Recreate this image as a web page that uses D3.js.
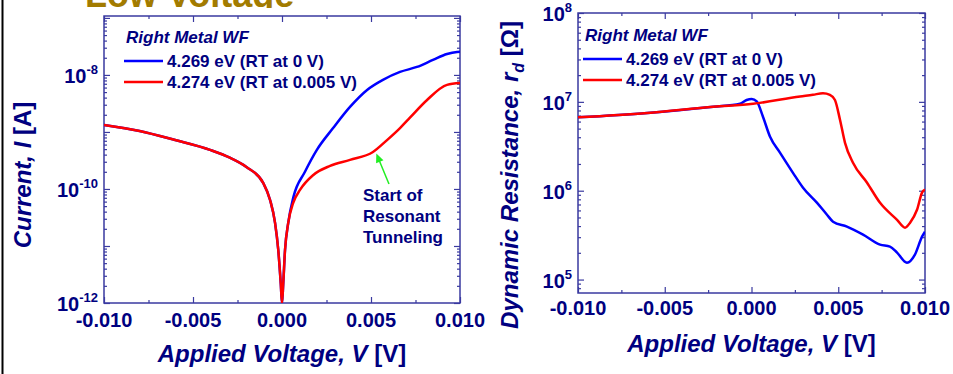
<!DOCTYPE html>
<html>
<head>
<meta charset="utf-8">
<script src="https://cdn.jsdelivr.net/npm/d3@7"></script>
<style>
  body { margin: 0; background: #fff; }
  svg text { font-family: Arial, "Liberation Sans", sans-serif; font-weight: bold; }
</style>
</head>
<body>
<svg id="chart" width="953" height="374"></svg>
<script>
"use strict";

// ---- data ----
var xTicks = [-0.010, -0.005, 0.000, 0.005, 0.010];
var xTickLabels = ["-0.010", "-0.005", "0.000", "0.005", "0.010"];

var ivLabelExps = [-12, -10, -8];
var rdLabelExps = [5, 6, 7, 8];

var legendNames = ["4.269 eV (RT at 0 V)", "4.274 eV (RT at 0.005 V)"];
var noteLines = ["Start of", "Resonant", "Tunneling"];

// current vs voltage
var ivBlueV = [-0.010, -0.008, -0.006, -0.004, -0.0029, -0.002, -0.00105, -0.00067, -0.00039, -0.00021, -0.00007, 0,
        0.00007, 0.00017, 0.00035, 0.00064, 0.00129, 0.00195, 0.00287, 0.00382, 0.00478, 0.00567, 0.00663, 0.00758,
        0.00848, 0.00927, 0.00983, 0.010];
var ivBlueI = [1.33e-9, 1.04e-9, 7.2e-10, 4.8e-10, 3.5e-10, 2.43e-10, 1.27e-10, 6.4e-11, 2.54e-11, 8.5e-12, 2.2e-12, 1e-12,
        2.2e-12, 8.5e-12, 2.54e-11, 7.2e-11, 2.0e-10, 4.8e-10, 1.17e-9, 2.75e-9, 5.46e-9, 8.2e-9, 1.13e-8, 1.38e-8,
        1.83e-8, 2.33e-8, 2.53e-8, 2.55e-8];

var ivRedV = [-0.010, -0.008, -0.006, -0.004, -0.0029, -0.002, -0.00105, -0.00067, -0.00039, -0.00021, -0.00007, 0,
        0.00007, 0.00017, 0.00035, 0.00063, 0.00101, 0.00176, 0.0027, 0.00382, 0.00511, 0.0059, 0.00663, 0.0072,
        0.00815, 0.00927, 0.010];
var ivRedI = [1.33e-9, 1.04e-9, 7.2e-10, 4.8e-10, 3.5e-10, 2.43e-10, 1.27e-10, 6.4e-11, 2.54e-11, 8.5e-12, 2.2e-12, 1e-12,
        2.2e-12, 8.5e-12, 2.54e-11, 5.7e-11, 9.6e-11, 1.76e-10, 2.54e-10, 3.23e-10, 4.45e-10, 7.2e-10, 1.17e-9, 1.8e-9,
        3.64e-9, 6.7e-9, 7.2e-9];

// dynamic resistance vs voltage
var rdBlueV = [-0.010, -0.006, -0.0022, -0.00066, -0.00028, 0.00001, 0.0003, 0.00066, 0.00107, 0.00164, 0.00239, 0.00297,
        0.00378, 0.00435, 0.0047, 0.0055, 0.00643, 0.00741, 0.00798, 0.00839, 0.00896, 0.00942, 0.00983, 0.010];
var rdBlueR = [6.7e6, 7.5e6, 8.8e6, 9.5e6, 1.05e7, 1.08e7, 1.01e7, 6.8e6, 4.04e6, 2.68e6, 1.59e6, 1.08e6,
        7.3e5, 5.37e5, 4.48e5, 3.94e5, 3.2e5, 2.47e5, 2.35e5, 2.01e5, 1.55e5, 1.91e5, 3.04e5, 3.46e5];

var rdRedV = [-0.010, -0.006, -0.0022, 0.00009, 0.0028, 0.00354, 0.00412, 0.00452, 0.00481, 0.0051, 0.00539, 0.00585,
        0.00666, 0.00741, 0.00839, 0.00885, 0.00914, 0.00954, 0.00983, 0.010];
var rdRedR = [6.7e6, 7.5e6, 8.8e6, 9.5e6, 1.15e7, 1.2e7, 1.25e7, 1.2e7, 1.05e7, 6.3e6, 3.46e6, 2.06e6,
        1.23e6, 7.3e5, 4.7e5, 3.84e5, 4.37e5, 6.1e5, 9.5e5, 1.03e6];

var navy = "#000080";
var frameColor = "#3a3aa0";
var svg = d3.select("#chart");

// slide title, only its lower edge shows
svg.append("clipPath").attr("id", "titleClip")
        .append("rect").attr("x", 0).attr("y", 0).attr("width", 400).attr("height", 8);
svg.append("text").text("Low Voltage")
        .attr("clip-path", "url(#titleClip)")
        .attr("x", 85).attr("y", 7)
        .attr("font-size", 36).attr("fill", "#a27b00");

// slide border on the left
svg.append("line").attr("x1", 2.5).attr("x2", 2.5).attr("y1", 0).attr("y2", 374)
        .attr("stroke", "#000").attr("stroke-width", 2);

function minorLogTicks(domain) {
        var out = [];
        var lo = Math.floor(Math.log10(domain[0])), hi = Math.ceil(Math.log10(domain[1]));
        for (var e = lo; e <= hi; e++) {
                for (var k = 2; k <= 9; k++) {
                        var v = k * Math.pow(10, e);
                        if (v >= domain[0] && v <= domain[1]) out.push(v);
                }
        }
        return out;
}

function majorLogTicks(domain) {
        var out = [];
        for (var e = Math.ceil(Math.log10(domain[0]) - 1e-9); Math.pow(10, e) <= domain[1]; e++) out.push(Math.pow(10, e));
        return out;
}

function drawPanel(p) {
        var x = d3.scaleLinear().domain([-0.010, 0.010]).range([p.left, p.right]);
        var y = d3.scaleLog().domain(p.yDomain).range([p.bottom, p.top]);
        var g = svg.append("g");

        // ticks on all four sides, pointing inward
        function axisSet(axisFn, pos, ticks, size) {
                g.append("g").attr("transform", pos)
                        .call(axisFn.tickValues(ticks).tickSize(size).tickFormat(""))
                        .call(function (s) {
                                s.select(".domain").remove();
                                s.selectAll("line").attr("stroke", frameColor).attr("stroke-width", 1.2);
                        });
        }
        var xMinor = [-0.0075, -0.0025, 0.0025, 0.0075];
        axisSet(d3.axisBottom(x), "translate(0," + p.bottom + ")", xTicks, -6);
        axisSet(d3.axisBottom(x), "translate(0," + p.bottom + ")", xMinor, -3);
        axisSet(d3.axisTop(x), "translate(0," + p.top + ")", xTicks, -6);
        axisSet(d3.axisTop(x), "translate(0," + p.top + ")", xMinor, -3);
        var yMaj = majorLogTicks(p.yDomain), yMin = minorLogTicks(p.yDomain);
        axisSet(d3.axisLeft(y), "translate(" + p.left + ",0)", yMaj, -6);
        axisSet(d3.axisLeft(y), "translate(" + p.left + ",0)", yMin, -3);
        axisSet(d3.axisRight(y), "translate(" + p.right + ",0)", yMaj, -6);
        axisSet(d3.axisRight(y), "translate(" + p.right + ",0)", yMin, -3);

        g.append("rect")
                .attr("x", p.left).attr("y", p.top)
                .attr("width", p.right - p.left).attr("height", p.bottom - p.top)
                .attr("fill", "none").attr("stroke", frameColor).attr("stroke-width", 1.5);

        // x tick labels
        g.selectAll(".xl").data(xTicks).enter().append("text")
                .attr("x", function (d) { return x(d); })
                .attr("y", p.bottom + p.xLabelGap)
                .attr("text-anchor", "middle").attr("font-size", 20).attr("fill", navy)
                .text(function (d, i) { return xTickLabels[i]; });

        // y tick labels as powers of ten
        var yl = g.selectAll(".yl").data(p.labelExps).enter().append("text")
                .attr("x", p.left - 6)
                .attr("y", function (d) { return y(Math.pow(10, d)) + 8; })
                .attr("text-anchor", "end").attr("font-size", 20).attr("fill", navy);
        yl.append("tspan").text("10");
        yl.append("tspan").attr("dy", -9).attr("font-size", 13).text(function (d) { return d; });

        // curves
        var clipId = "clip" + p.id;
        svg.append("clipPath").attr("id", clipId).append("rect")
                .attr("x", p.left).attr("y", p.top - 1)
                .attr("width", p.right - p.left).attr("height", p.bottom - p.top + 1);
        var line = d3.line()
                .x(function (d) { return x(d[0]); })
                .y(function (d) { return y(d[1]); })
                .curve(d3.curveMonotoneX);
        p.series.forEach(function (s) {
                g.append("path")
                        .datum(d3.zip(s.v, s.y))
                        .attr("d", line)
                        .attr("clip-path", "url(#" + clipId + ")")
                        .attr("fill", "none").attr("stroke", s.color)
                        .attr("stroke-width", 2.5).attr("stroke-linejoin", "round");
        });

        // legend
        var lg = p.legend;
        g.append("text").text("Right Metal WF")
                .attr("x", lg.x + 2).attr("y", lg.y)
                .attr("font-size", 17).attr("font-style", "italic").attr("fill", navy);
        p.series.forEach(function (s, i) {
                var yy = lg.y + 18 + i * 21;
                g.append("line")
                        .attr("x1", lg.x).attr("x2", lg.x + 39)
                        .attr("y1", yy).attr("y2", yy)
                        .attr("stroke", s.color).attr("stroke-width", 2.5);
                g.append("text").text(legendNames[i])
                        .attr("x", lg.x + 43).attr("y", yy + 6)
                        .attr("font-size", 17).attr("fill", navy);
        });

        // axis titles
        var mid = (p.left + p.right) / 2;
        var xt = g.append("text")
                .attr("x", mid).attr("y", p.xTitleY)
                .attr("text-anchor", "middle").attr("font-size", 24).attr("fill", navy);
        xt.append("tspan").attr("font-style", "italic").text("Applied Voltage, V");
        xt.append("tspan").text(" [V]");

        var yt = g.append("text")
                .attr("transform", "translate(" + p.yTitleX + "," + p.yTitleMid + ") rotate(-90)")
                .attr("text-anchor", "middle").attr("font-size", 24).attr("fill", navy);
        p.yTitle(yt);

        return { x: x, y: y, g: g };
}

var iv = drawPanel({
        id: "iv", left: 104, right: 460, top: 16, bottom: 303,
        yDomain: [1e-12, 1.08e-7], labelExps: ivLabelExps,
        xLabelGap: 24, xTitleY: 362, yTitleX: 31, yTitleMid: 175,
        legend: { x: 124, y: 43 },
        series: [
                { v: ivBlueV, y: ivBlueI, color: "#0000ff" },
                { v: ivRedV, y: ivRedI, color: "#ff0000" }
        ],
        yTitle: function (t) {
                t.append("tspan").attr("font-style", "italic").text("Current, I");
                t.append("tspan").text(" [A]");
        }
});

drawPanel({
        id: "rd", left: 578, right: 925, top: 13, bottom: 293,
        yDomain: [7.06e4, 1e8], labelExps: rdLabelExps,
        xLabelGap: 22, xTitleY: 352, yTitleX: 518, yTitleMid: 175,
        legend: { x: 583, y: 41 },
        series: [
                { v: rdBlueV, y: rdBlueR, color: "#0000ff" },
                { v: rdRedV, y: rdRedR, color: "#ff0000" }
        ],
        yTitle: function (t) {
                t.append("tspan").attr("font-style", "italic").text("Dynamic Resistance, r");
                t.append("tspan").attr("font-style", "italic").attr("font-size", 16).attr("dy", 6).text("d");
                t.append("tspan").attr("dy", -6).text(" [\u03A9]");
        }
});

// annotation on the current plot
var tip = [iv.x(0.0053), iv.y(4.2e-10)];
var tail = [iv.x(0.00601), iv.y(1.22e-10)];
var ang = Math.atan2(tip[1] - tail[1], tip[0] - tail[0]);
var green = "#22ee22";
iv.g.append("line")
        .attr("x1", tail[0]).attr("y1", tail[1])
        .attr("x2", tip[0] - 6 * Math.cos(ang)).attr("y2", tip[1] - 6 * Math.sin(ang))
        .attr("stroke", green).attr("stroke-width", 1.5);
var hl = 9, hw = 4;
iv.g.append("path")
        .attr("d", "M" + tip[0] + "," + tip[1] +
                "L" + (tip[0] - hl * Math.cos(ang) + hw * Math.sin(ang)) + "," + (tip[1] - hl * Math.sin(ang) - hw * Math.cos(ang)) +
                "L" + (tip[0] - hl * Math.cos(ang) - hw * Math.sin(ang)) + "," + (tip[1] - hl * Math.sin(ang) + hw * Math.cos(ang)) + "Z")
        .attr("fill", green);

iv.g.selectAll(".note").data(noteLines).enter().append("text")
        .attr("x", iv.x(0.00455))
        .attr("y", function (d, i) { return 201 + i * 21; })
        .attr("font-size", 17).attr("fill", navy)
        .text(function (d) { return d; });
</script>
</body>
</html>
